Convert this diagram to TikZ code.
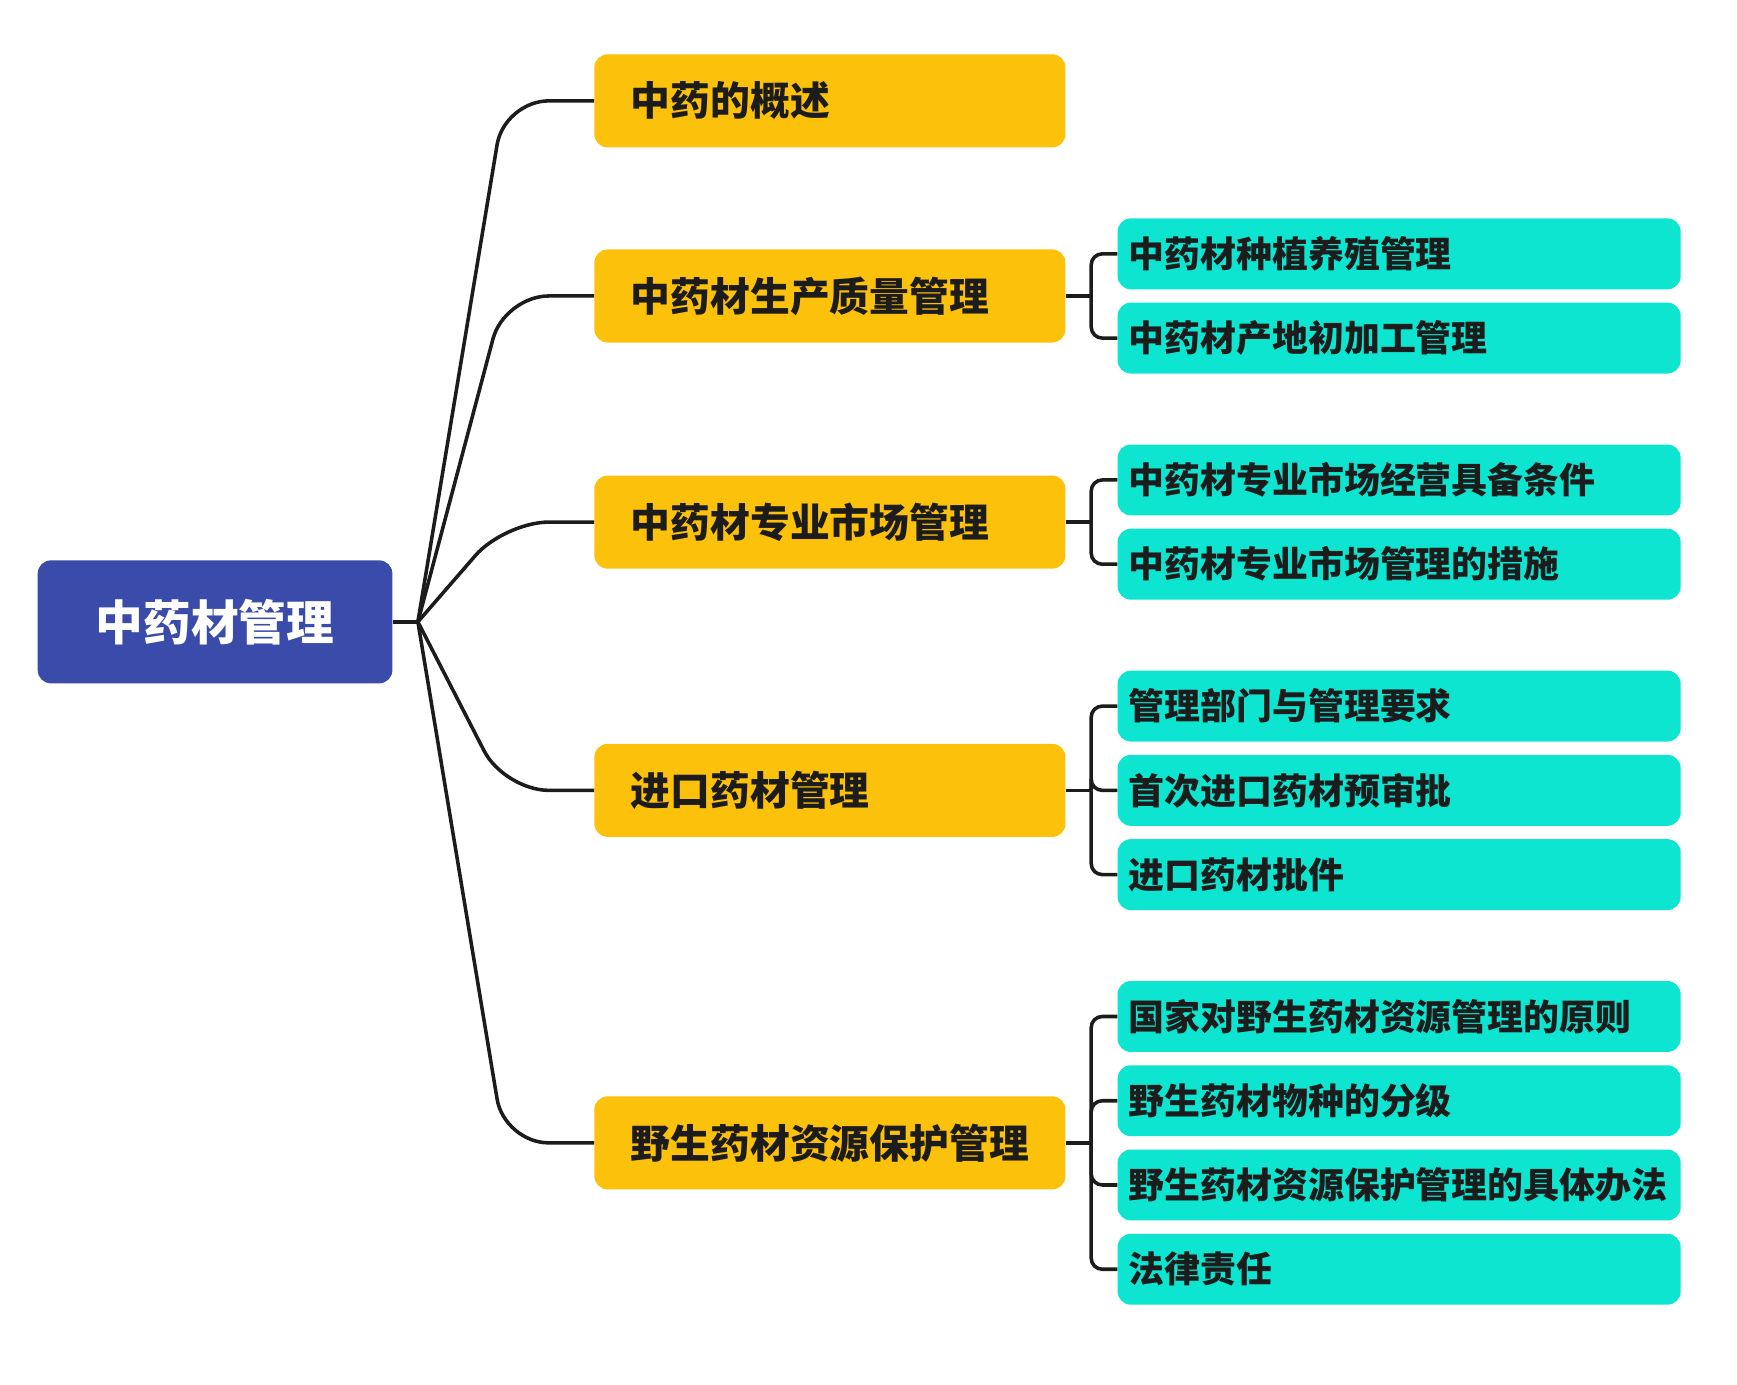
\documentclass[tikz,border=0pt]{standalone}
\usepackage{fontspec}
\newfontfamily\cjk{Noto Sans CJK SC}
\usetikzlibrary{positioning,calc}
\definecolor{rootblue}{HTML}{3B4BA9}
\definecolor{topicyellow}{HTML}{FCC10A}
\definecolor{subteal}{HTML}{0EE5D0}
\definecolor{linedark}{HTML}{1C1C1C}
\tikzset{
  rootbox/.style={fill=rootblue,text=white,rounded corners=12pt,minimum width=320pt,minimum height=111pt,
    inner sep=0pt,font=\cjk\bfseries\fontsize{43}{48}\selectfont},
  topicbox/.style={fill=topicyellow,rounded corners=12pt,minimum height=84pt,text width=359pt,
    inner xsep=33pt,inner ysep=0pt,align=left,anchor=west,text=linedark,
    font=\cjk\bfseries\fontsize{35.9}{40}\selectfont},
  subbox/.style={fill=subteal,rounded corners=12pt,minimum height=64pt,text width=488pt,
    inner xsep=10pt,inner ysep=0pt,align=left,anchor=west,text=linedark,
    font=\cjk\bfseries\fontsize{32.4}{36}\selectfont},
  branch/.style={draw=linedark,line width=3.2pt}
}
\begin{document}
\begin{tikzpicture}[x=1pt,y=1pt]
\useasboundingbox (1,0) rectangle (1568,-1249);

\node[rootbox] (root) at (195,-561) {中药材管理};
\coordinate (fork) at (378,-561);

\node[topicbox] (t1) at (537,-91) {中药的概述};
\node[topicbox] (t2) at (537,-267) {中药材生产质量管理};
\node[topicbox] (t3) at (537,-471) {中药材专业市场管理};
\node[topicbox] (t4) at (537,-713) {进口药材管理};
\node[topicbox] (t5) at (537,-1031) {野生药材资源保护管理};

\node[subbox] (s1) at (1009,-229) {中药材种植养殖管理};
\node[subbox] (s2) at (1009,-305) {中药材产地初加工管理};
\node[subbox] (s3) at (1009,-433) {中药材专业市场经营具备条件};
\node[subbox] (s4) at (1009,-509) {中药材专业市场管理的措施};
\node[subbox] (s5) at (1009,-637) {管理部门与管理要求};
\node[subbox] (s6) at (1009,-713) {首次进口药材预审批};
\node[subbox] (s7) at (1009,-789) {进口药材批件};
\node[subbox] (s8) at (1009,-917) {国家对野生药材资源管理的原则};
\node[subbox] (s9) at (1009,-993) {野生药材物种的分级};
\node[subbox] (s10) at (1009,-1069) {野生药材资源保护管理的具体办法};
\node[subbox] (s11) at (1009,-1145) {法律责任};

\draw[branch] (root.east) -- (fork);
\foreach \t in {t1,t2,t3,t4,t5}
  \draw[branch,rounded corners=40pt] (fork) -- ([xshift=-81pt]\t.west) -- (\t.west);

\foreach \t/\kids in {t2/{s1,s2},t3/{s3,s4},t4/{s5,s6,s7},t5/{s8,s9,s10,s11}}{
  \draw[branch] (\t.east) -- ++(23,0) coordinate (b\t);
  \foreach \s in \kids
    \draw[branch,rounded corners=10pt] (b\t) |- (\s.west);
}
\end{tikzpicture}
\end{document}
